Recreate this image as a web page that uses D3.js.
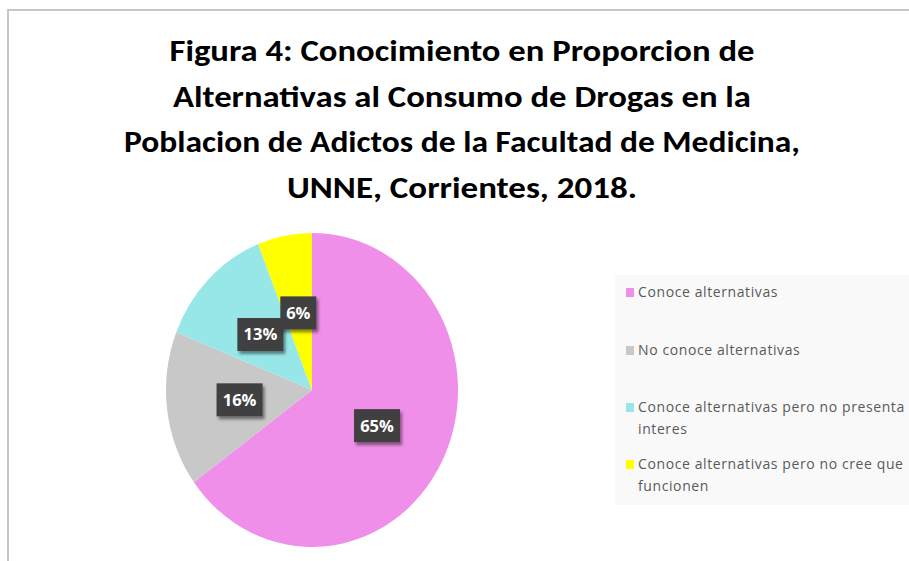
<!DOCTYPE html>
<html lang="es">
<head>
<meta charset="utf-8">
<title>Figura 4</title>
<style>
  body { margin: 0; background: #fff; }
  svg { display: block; }
  .title { font-family: Carlito, "Liberation Sans Narrow", "Liberation Sans", sans-serif; font-weight: bold; font-size: 30px; fill: #000; }
  .legend text { font-family: "Open Sans", "DejaVu Sans", sans-serif; font-size: 14px; letter-spacing: 0.6px; fill: #595959; }
  .lbl text { font-family: "Open Sans", "DejaVu Sans", sans-serif; font-weight: bold; font-size: 16.5px; fill: #fff; }
</style>
</head>
<body>
<svg id="chart" width="909" height="561"></svg>
<script src="https://cdn.jsdelivr.net/npm/d3@7"></script>
<script>
// datos
var titleLines = [
  "Figura 4: Conocimiento en Proporcion de",
  "Alternativas al Consumo de Drogas en la",
  "Poblacion de Adictos de la Facultad de Medicina,",
  "UNNE, Corrientes, 2018."
];
var categories = [
  "Conoce alternativas",
  "No conoce alternativas",
  "Conoce alternativas pero no presenta interes",
  "Conoce alternativas pero no cree que funcionen"
];
var legendLines = [
  ["Conoce alternativas"],
  ["No conoce alternativas"],
  ["Conoce alternativas pero no presenta", "interes"],
  ["Conoce alternativas pero no cree que", "funcionen"]
];
var values = [65, 16, 13, 6];
var colors = ["#f08fe9", "#c8c8c8", "#97e7e9", "#ffff00"];

var svg = d3.select("#chart");

// marco
svg.append("path")
  .attr("d", "M8,561V10H909")
  .attr("fill", "none")
  .attr("stroke", "#c6c6c6")
  .attr("stroke-width", 2);

// sombra de etiquetas
var defs = svg.append("defs");
var f = defs.append("filter").attr("id", "shadow")
  .attr("x", "-30%").attr("y", "-30%").attr("width", "160%").attr("height", "160%");
f.append("feDropShadow").attr("dx", 2).attr("dy", 3).attr("stdDeviation", 1.8)
  .attr("flood-color", "#000").attr("flood-opacity", 0.45);

// titulo
var titleWidths = [585, 578, 676, 350];
svg.append("g").selectAll("text")
  .data(titleLines)
  .join("text")
  .attr("class", "title")
  .attr("x", 462)
  .attr("y", function(d, i) { return 61 + i * 45.7; })
  .attr("text-anchor", "middle")
  .attr("textLength", function(d, i) { return titleWidths[i]; })
  .attr("lengthAdjust", "spacingAndGlyphs")
  .text(function(d) { return d; });

// pastel (ligeramente eliptico)
var cx = 312, cy = 390, rx = 146, ry = 157;
var pie = d3.pie().sort(null).value(function(d) { return d; });
var arcs = pie(values);
var arc = d3.arc().innerRadius(0).outerRadius(rx);

var gPie = svg.append("g")
  .attr("transform", "translate(" + cx + "," + cy + ") scale(1," + (ry / rx) + ")");
gPie.selectAll("path")
  .data(arcs)
  .join("path")
  .attr("d", arc)
  .attr("fill", function(d, i) { return colors[i]; });

// etiquetas de datos
var lbl = svg.append("g").attr("class", "lbl")
  .selectAll("g")
  .data(arcs)
  .join("g")
  .attr("transform", function(d) {
    var c = arc.centroid(d);
    return "translate(" + (cx + c[0]) + "," + (cy + c[1] * ry / rx) + ")";
  });
lbl.append("rect")
  .attr("x", function(d) { return d.data >= 10 ? -23 : -18; })
  .attr("y", -16.5)
  .attr("width", function(d) { return d.data >= 10 ? 46 : 36; })
  .attr("height", 33)
  .attr("fill", "#404040")
  .attr("filter", "url(#shadow)");
lbl.append("text")
  .attr("text-anchor", "middle")
  .attr("dy", "0.36em")
  .text(function(d) { return d.data + "%"; });

// leyenda
var legend = svg.append("g").attr("class", "legend");
legend.append("rect")
  .attr("x", 615).attr("y", 275)
  .attr("width", 294).attr("height", 230)
  .attr("fill", "#f9f9f9");
var itemY = [297, 355, 412, 469];
var items = legend.selectAll("g.item")
  .data(categories)
  .join("g")
  .attr("class", "item")
  .attr("transform", function(d, i) { return "translate(626," + itemY[i] + ")"; });
items.append("rect")
  .attr("x", 0).attr("y", -9)
  .attr("width", 8).attr("height", 9)
  .attr("fill", function(d, i) { return colors[i]; });
items.append("text")
  .attr("x", 12)
  .selectAll("tspan")
  .data(function(d, i) { return legendLines[i]; })
  .join("tspan")
  .attr("x", 12)
  .attr("dy", function(d, j) { return j === 0 ? 0 : 22; })
  .text(function(d) { return d; });
</script>
</body>
</html>
